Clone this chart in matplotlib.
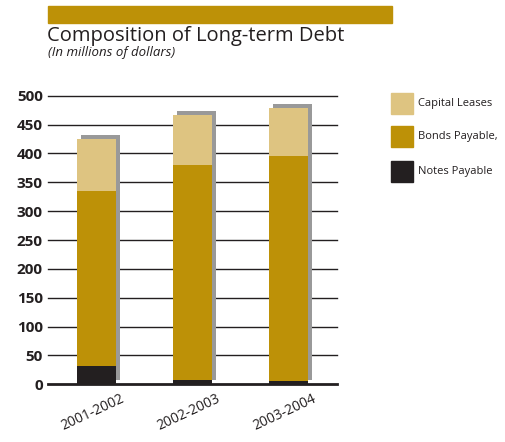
import matplotlib
matplotlib.use("Agg")
import matplotlib.pyplot as plt
import matplotlib.transforms as mtransforms
from matplotlib.patches import Rectangle

categories = ["2001-2002", "2002-2003", "2003-2004"]
notes_payable = [32, 7, 5]
bonds_payable = [303, 373, 391]
capital_leases = [90, 86, 82]
yticks = [0, 50, 100, 150, 200, 250, 300, 350, 400, 450, 500]

c_lease = "#DEC481"
c_bond = "#BD9107"
c_note = "#231F20"
c_shadow = "#999999"
c_text = "#231F20"

plt.rcParams['font.family'] = ['Open Sans', 'DejaVu Sans']

fig = plt.figure(figsize=(5.05, 4.42), dpi=100)
ax = fig.add_axes([48.3/505, 1-384.3/442, (336.7-48.3)/505, (384.3-95.7)/442])

x = list(range(len(categories)))
w = 0.4
totals = [a + b + c for a, b, c in zip(notes_payable, bonds_payable, capital_leases)]

for t in yticks[1:]:
    ax.axhline(t, color="#231F20", lw=1.0, zorder=1, clip_on=False)
ax.axhline(0, color="#231F20", lw=2.0, zorder=5, clip_on=False)

off = mtransforms.offset_copy(ax.transData, fig=fig, x=4, y=4, units='dots')
ax.bar(x, totals, width=w, color=c_shadow, transform=off, zorder=2, linewidth=0)

b1 = [n for n in notes_payable]
b2 = [n + b for n, b in zip(notes_payable, bonds_payable)]
ax.bar(x, notes_payable, width=w, color=c_note, zorder=3, linewidth=0)
ax.bar(x, bonds_payable, width=w, bottom=b1, color=c_bond, zorder=3, linewidth=0)
ax.bar(x, capital_leases, width=w, bottom=b2, color=c_lease, zorder=3, linewidth=0)

ax.set_xlim(-0.5, 2.5)
ax.set_ylim(0, 500)
for s in ax.spines.values():
    s.set_visible(False)
ax.set_yticks(yticks)
ax.set_yticklabels([str(t) for t in yticks], fontsize=11, fontweight='bold', color=c_text)
ax.tick_params(axis='y', length=0, pad=4)
ax.set_xticks(x)
ax.set_xticklabels(categories, rotation=25, ha='right', rotation_mode='anchor',
                   fontsize=10, color=c_text)
ax.tick_params(axis='x', length=0, pad=5)
for lbl in ax.get_xticklabels():
    lbl.set_transform(lbl.get_transform() + mtransforms.ScaledTranslation(24/100, 0, fig.dpi_scale_trans))

# title bar
fig.patches.append(Rectangle((48.3/505, 1-23.3/442), (392-48.3)/505, 17.3/442,
                             transform=fig.transFigure, color=c_bond, zorder=0))
fig.text(47/505, 1-40.5/442, "Composition of Long-term Debt", fontsize=14.5, color=c_text,
         ha='left', va='baseline')
fig.text(48/505, 1-56/442, "(In millions of dollars)", fontsize=9.5, style='italic',
         color=c_text, ha='left', va='baseline')

# legend
legend_items = [("Capital Leases", c_lease, 92.7), ("Bonds Payable,", c_bond, 126), ("Notes Payable", c_note, 160.7)]
for label, col, top in legend_items:
    fig.patches.append(Rectangle((390.7/505, 1-(top+21)/442), 22/505, 21/442,
                                 transform=fig.transFigure, color=col))
    fig.text(418/505, 1-(top+10.5)/442, label, fontsize=8, color=c_text, ha='left', va='center')

fig.savefig("out.png", dpi=100)
